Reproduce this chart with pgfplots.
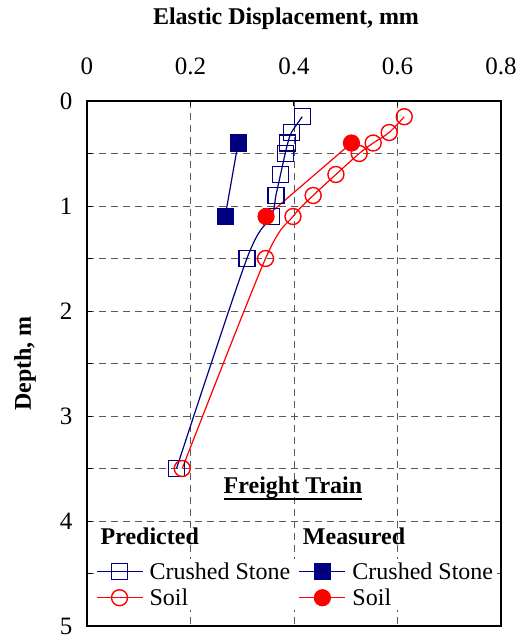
\documentclass[border=0pt]{standalone}
\usepackage{fontspec}
\setmainfont{Liberation Serif}
\usepackage{pgfplots}
\pgfplotsset{compat=1.18}
\definecolor{csblue}{RGB}{0,0,128}
\definecolor{soilred}{RGB}{255,0,0}
\newcommand{\bigfont}{\fontsize{24}{27}\selectfont}
\newcommand{\tickfont}{\fontsize{25}{28}\selectfont}

\begin{document}
\begin{tikzpicture}
\begin{axis}[
  scale only axis,
  width=414pt, height=525pt,
  xmin=0, xmax=0.8, ymin=0, ymax=5,
  y dir=reverse,
  xtick={0,0.2,0.4,0.6,0.8},
  ytick={0,1,2,3,4,5},
  minor ytick={0.5,1.5,2.5,3.5,4.5},
  xticklabel pos=upper,
  xtick pos=upper, ytick pos=left,
  grid=both,
  major grid style={black!65, line width=0.8pt, dash pattern=on 7pt off 5pt},
  minor grid style={black!65, line width=0.8pt, dash pattern=on 7pt off 5pt},
  axis line style={line width=2.4pt},
  tick style={black, line width=1pt},
  major tick length=5pt, minor tick length=5pt,
  tick align=inside,
  /pgf/number format/assume math mode=true,
  /pgf/number format/fixed,
  ticklabel style={font=\tickfont},
  xticklabel style={yshift=23pt},
  yticklabel style={xshift=-11pt},
  every axis title/.style={at={(axis description cs:0.5,1)}, anchor=center, yshift=82pt, xshift=-8pt, font=\bigfont\bfseries},
  title={Elastic Displacement, mm},
  every axis y label/.style={at={(axis description cs:0,0.5)}, rotate=90, anchor=center, yshift=62pt, font=\bigfont\bfseries},
  ylabel={Depth, m},
  legend columns=2,
  legend cell align=left,
  legend style={at={(axis cs:0.013,4.36)}, anchor=north west, fill=white, draw=none,
    font=\bigfont, nodes={inner sep=1.5pt}, inner sep=2pt, row sep=5pt,
    /tikz/every odd column/.append style={column sep=5pt},
    /tikz/every even column/.append style={column sep=7pt}},
  legend image code/.code={\draw[mark repeat=2,mark phase=2] plot coordinates {(0pt,0pt) (23pt,0pt) (46pt,0pt)};},
]

% predicted, crushed stone
\addplot[csblue, line width=1.2pt, smooth, mark=square, mark size=8pt, mark options={line width=1.4pt, solid}]
  coordinates {(0.416,0.15) (0.395,0.3) (0.388,0.4) (0.383,0.5) (0.374,0.7) (0.365,0.9) (0.356,1.1) (0.309,1.5) (0.173,3.5)};
\addlegendentry{Crushed Stone}

% measured, crushed stone
\addplot[csblue, line width=1.2pt, mark=square*, mark size=8pt, mark options={fill=csblue, solid}]
  coordinates {(0.292,0.4) (0.267,1.1)};
\addlegendentry{Crushed Stone}

% predicted, soil
\addplot[soilred, line width=1.2pt, smooth, mark=o, mark size=8pt, mark options={line width=1.4pt, solid}]
  coordinates {(0.613,0.15) (0.584,0.3) (0.553,0.4) (0.526,0.5) (0.481,0.7) (0.437,0.9) (0.398,1.1) (0.345,1.5) (0.184,3.5)};
\addlegendentry{Soil}

% measured, soil
\addplot[soilred, line width=1.2pt, mark=*, mark size=8pt, mark options={fill=soilred, solid}]
  coordinates {(0.511,0.4) (0.346,1.1)};
\addlegendentry{Soil}

\node[font=\bigfont\bfseries, anchor=west, inner sep=0pt] at (axis cs:0.026,4.15) {Predicted};
\node[font=\bigfont\bfseries, anchor=west, inner sep=0pt] at (axis cs:0.417,4.15) {Measured};
\node[font=\bigfont\bfseries, inner sep=0pt] (ft) at (axis cs:0.398,3.68) {Freight Train};
\end{axis}
\draw[line width=2.5pt] ([yshift=-6pt]ft.base west) -- ([yshift=-6pt]ft.base east);
\path ([xshift=-87pt,yshift=-12pt]current axis.south west) rectangle ([xshift=18pt,yshift=101pt]current axis.north east);
\end{tikzpicture}
\end{document}
